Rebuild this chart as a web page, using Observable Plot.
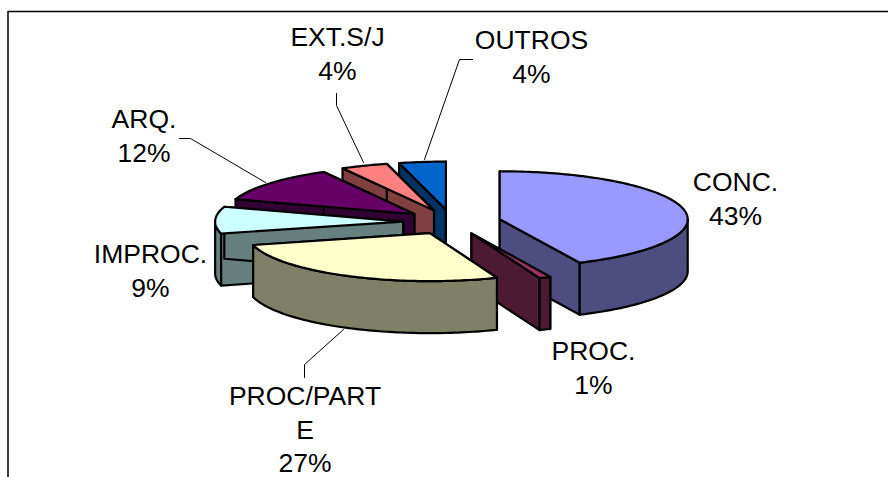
<!DOCTYPE html>
<html>
<head>
<meta charset="utf-8">
<script src="https://cdn.jsdelivr.net/npm/d3@7"></script>
<script src="https://cdn.jsdelivr.net/npm/@observablehq/plot@0.6"></script>
<style>html,body{margin:0;padding:0;background:#fff;overflow:hidden}svg{display:block}</style>
</head>
<body>
<div id="chart"></div>
<script>
// Data
const categories = ["CONC.", "PROC.", "PROC/PARTE", "IMPROC.", "ARQ.", "EXT.S/J", "OUTROS"];
const shares = [43, 1, 27, 9, 12, 4, 4];
const topColors = ["#9999FF", "#993366", "#FFFFCC", "#CCFFFF", "#660066", "#FF8080", "#0066CC"];
const wallColors = ["#4D4D80", "#4D1A33", "#808066", "#668080", "#330033", "#804040", "#003366"];
const labelLines = ["CONC.\n43%", "PROC.\n1%", "PROC/PART\nE\n27%", "IMPROC.\n9%", "ARQ.\n12%", "EXT.S/J\n4%", "OUTROS\n4%"];

// Pie projection layout
const pie = {cx: 451.5, cy: 221.5, a: 188, b: 48, depth: 52, explode: 0.26};
const sliceWidthScale = [1, 0.985, 0.97, 1, 1, 1.01, 1];
const paintOrder = [6, 5, 4, 3, 0, 1, 2];
const labelAnchors = [[735, 192], [593, 361], [304.5, 406], [150, 264], [143.5, 129], [337, 47], [531, 50]];
const leaders = [
  [[179, 138], [190, 138], [265, 182]],
  [[336, 93], [336, 105], [363, 162]],
  [[472, 59], [459, 59], [424, 159]],
  [[304, 377], [304, 364], [343, 329]]
];

const total = d3.sum(shares);
let acc = 0;
const slices = shares.map((v, i) => {
  const start = acc / total * 2 * Math.PI;
  acc += v;
  const end = acc / total * 2 * Math.PI;
  const mid = (start + end) / 2;
  return {
    i, start, end,
    ax: pie.cx + pie.explode * pie.a * Math.sin(mid),
    ay: pie.cy - pie.explode * pie.b * Math.cos(mid)
  };
});
const rim = (s, t) => [s.ax + pie.a * sliceWidthScale[s.i] * Math.sin(t), s.ay - pie.b * Math.cos(t)];
const arc = (s, t0, t1) => {
  const n = Math.max(2, Math.ceil((t1 - t0) / 0.02));
  return d3.range(n + 1).map(k => rim(s, t0 + (t1 - t0) * k / n));
};
const drop = p => [p[0], p[1] + pie.depth];

const face = (pts, fill) => Plot.line(pts, {
  x: d => d[0], y: d => d[1], fill, stroke: "#000", strokeWidth: 2.2,
  curve: "linear-closed", strokeLinejoin: "round"
});

const pieMarks = paintOrder.flatMap(i => {
  const s = slices[i];
  const apex = [s.ax, s.ay];
  const wall = wallColors[i];
  const radial = t => {
    const p = rim(s, t);
    return face([apex, p, drop(p), drop(apex)], wall);
  };
  const marks = [radial(s.start), radial(s.end)];
  const lo = Math.max(s.start, Math.PI / 2), hi = Math.min(s.end, 3 * Math.PI / 2);
  if (hi > lo) {
    const top = arc(s, lo, hi);
    marks.push(face([...top, ...top.map(drop).reverse()], wall));
  }
  marks.push(face([apex, ...arc(s, s.start, s.end)], topColors[i]));
  return marks;
});

const labels = categories.map((c, i) => ({text: labelLines[i], x: labelAnchors[i][0], y: labelAnchors[i][1]}));

const chart = Plot.plot({
  width: 888, height: 477, margin: 0,
  x: {domain: [0, 888], range: [0, 888], axis: null},
  y: {domain: [0, 477], range: [0, 477], axis: null},
  style: {background: "#fff"},
  marks: [
    Plot.line([[7.5, 477], [7.5, 11], [888, 11]], {x: d => d[0], y: d => d[1], stroke: "#000", strokeWidth: 1.5}),
    ...leaders.map(l => Plot.line(l, {x: d => d[0], y: d => d[1], stroke: "#000", strokeWidth: 1})),
    ...pieMarks,
    Plot.text(labels, {
      x: "x", y: "y", text: "text", textAnchor: "middle", lineAnchor: "top",
      fontFamily: "Liberation Sans, Arial, sans-serif", fontSize: 26.5, lineHeight: 1.264,
      fill: "#000", dy: -24.9
    })
  ]
});
document.getElementById("chart").appendChild(chart);
</script>
</body>
</html>
